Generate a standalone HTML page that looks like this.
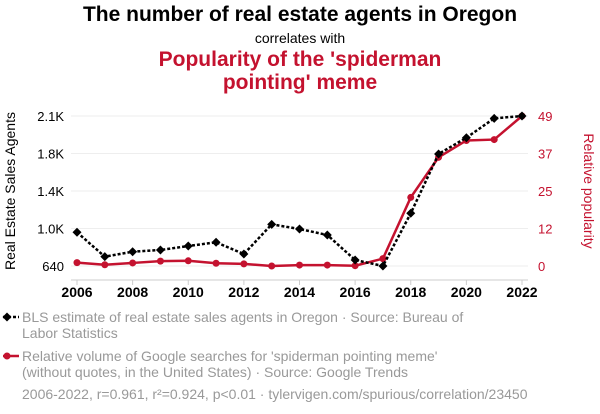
<!DOCTYPE html>
<html><head><meta charset="utf-8"><style>
body{margin:0;background:#fff;font-family:"Liberation Sans",sans-serif;}
#wrap{position:relative;width:600px;height:414px;overflow:hidden;}
.t{position:absolute;left:0;width:600px;text-align:center;}
.leg{position:absolute;left:22px;font-size:14px;color:#999;line-height:16px;}
</style></head><body>
<div id="wrap">
<div class="t" style="top:3px;font-size:21px;font-weight:bold;color:#000">The number of real estate agents in Oregon</div>
<div class="t" style="top:30px;font-size:14px;color:#000">correlates with</div>
<div class="t" style="top:48px;font-size:21px;font-weight:bold;color:#c4122f;line-height:23px">Popularity of the 'spiderman<br>pointing' meme</div>
<svg id="svg" width="600" height="414" style="position:absolute;left:0;top:0"></svg>
<div class="leg" style="top:309px">BLS estimate of real estate sales agents in Oregon · Source: Bureau of<br>Labor Statistics</div>
<div class="leg" style="top:348px">Relative volume of Google searches for 'spiderman pointing meme'<br>(without quotes, in the United States) · Source: Google Trends</div>
<div class="leg" style="top:386px;left:22px">2006-2022, r=0.961, r²=0.924, p&lt;0.01 · tylervigen.com/spurious/correlation/23450</div>
</div>
<script>
const years=[2006,2007,2008,2009,2010,2011,2012,2013,2014,2015,2016,2017,2018,2019,2020,2021,2022];
const agents=[973,732,781,798,837,874,758,1051,1005,946,699,640,1160,1745,1906,2097,2120];
const meme=[1.1,0.4,1.0,1.6,1.7,0.9,0.7,0,0.3,0.3,0.1,2.4,22.4,35.5,41,41.3,49];
const leftTicks=["640","1.0K","1.4K","1.8K","2.1K"];
const rightTicks=["0","12","25","37","49"];
const xTicks=[2006,2008,2010,2012,2014,2016,2018,2020,2022];
const X0=77,X1=522,YT=116,YB=266;
const x=v=>X0+(v-2006)/(2022-2006)*(X1-X0);
const yl=v=>YB-(v-640)/(2120-640)*(YB-YT);
const yr=v=>YB-v/49*(YB-YT);
const s=document.getElementById('svg');const NS='http://www.w3.org/2000/svg';
function mk(tag,attrs,txt){const e=document.createElementNS(NS,tag);for(const k in attrs)e.setAttribute(k,attrs[k]);if(txt!==undefined)e.textContent=txt;s.appendChild(e);return e;}
for(let i=0;i<5;i++){const y=YB-i*(YB-YT)/4;
 const g=mk('line',{x1:X0-6,x2:X1+6,y1:y,y2:y,stroke:'#eee','stroke-width':1});
 
 const a=mk('text',{x:64,y:y+5,'text-anchor':'end','font-size':13,fill:'#000'},leftTicks[i]);
 
 const b=mk('text',{x:538,y:y+5,'text-anchor':'start','font-size':13,fill:'#c4122f'},rightTicks[i]);
 }
const ax=mk('line',{x1:X0-6,x2:X1+6,y1:280,y2:280,stroke:'#ccc'});

xTicks.forEach(v=>{const t=mk('line',{x1:x(v),x2:x(v),y1:280,y2:285,stroke:'#ccc'});
 
 const l=mk('text',{x:x(v),y:297,'text-anchor':'middle','font-size':14,'font-weight':'bold',fill:'#000'},v);
 });
const lt=mk('text',{transform:'translate(15,191) rotate(-90)','text-anchor':'middle','font-size':14,fill:'#000'},'Real Estate Sales Agents');

const rt=mk('text',{transform:'translate(584,191) rotate(90)','text-anchor':'middle','font-size':14,fill:'#c4122f'},'Relative popularity');

const mp=mk('polyline',{points:years.map((v,i)=>x(v)+','+yr(meme[i])).join(' '),fill:'none',stroke:'#c4122f','stroke-width':2.5});

years.forEach((v,i)=>{const c=mk('circle',{cx:x(v),cy:yr(meme[i]),r:3.5,fill:'#c4122f'});
 });
const ap=mk('polyline',{points:years.map((v,i)=>x(v)+','+yl(agents[i])).join(' '),fill:'none',stroke:'#000','stroke-width':2.5,'stroke-dasharray':'3,2'});

years.forEach((v,i)=>{const cx=x(v),cy=yl(agents[i]);const d=mk('polygon',{points:`${cx},${cy-4.5} ${cx+4.5},${cy} ${cx},${cy+4.5} ${cx-4.5},${cy}`,fill:'#000'});
 });
// legend markers
const l1=mk('line',{x1:3,x2:19,y1:317,y2:317,stroke:'#000','stroke-width':2.5,'stroke-dasharray':'3,2'});

const d1=mk('polygon',{points:'7,312.5 11.5,317 7,321.5 2.5,317',fill:'#000'});

const l2=mk('line',{x1:3,x2:19,y1:356,y2:356,stroke:'#c4122f','stroke-width':2.5});

const c2=mk('circle',{cx:7,cy:356,r:3.5,fill:'#c4122f'});

</script>
</body></html>
